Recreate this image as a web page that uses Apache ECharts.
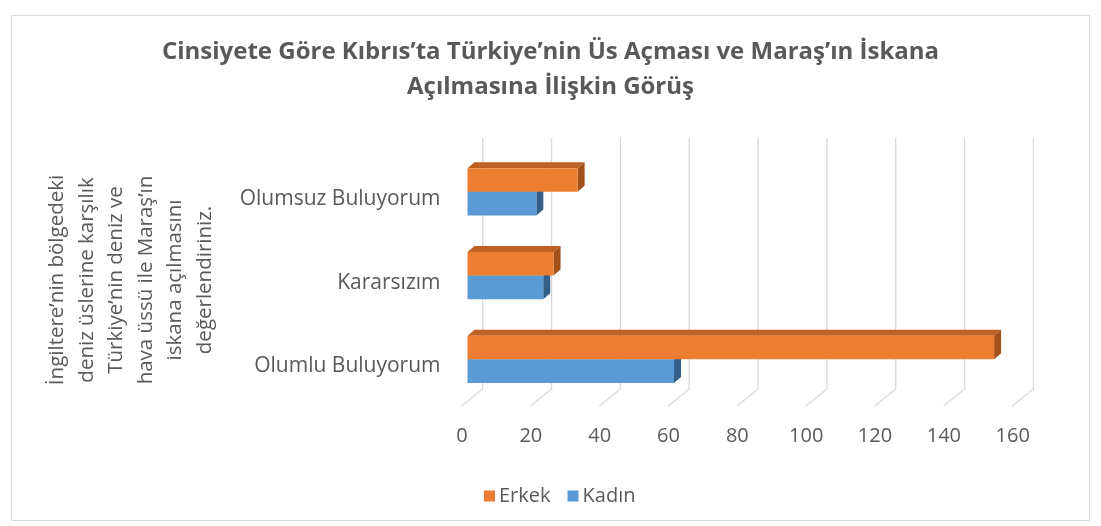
<!DOCTYPE html>
<html>
<head>
<meta charset="utf-8">
<script src="https://cdn.jsdelivr.net/npm/echarts/dist/echarts.min.js"></script>
<style>
  html, body { margin: 0; padding: 0; background: #ffffff; }
  #chart { width: 1101px; height: 526px; }
</style>
</head>
<body>
<div id="chart"></div>
<script>
// Survey answers by gender
const categories = ['Olumlu Buluyorum', 'Kararsızım', 'Olumsuz Buluyorum'];
const kadin = [60, 22, 20];
const erkek = [153, 25, 32];
const xTicks = [0, 20, 40, 60, 80, 100, 120, 140, 160];

const titleText = 'Cinsiyete Göre Kıbrıs’ta Türkiye’nin Üs Açması ve Maraş’ın İskana\nAçılmasına İlişkin Görüş';
const axisNameText = 'İngiltere’nin bölgedeki\ndeniz üslerine karşılık\nTürkiye’nin deniz ve\nhava üssü ile Maraş’ın\niskana açılmasını\ndeğerlendiriniz.';

const FONT = '"Open Sans", "Noto Sans", sans-serif';
const TEXT = '#595959';

// oblique depth used for the pseudo-3D look
const DEPTH_X = 7, DEPTH_Y = 6;        // bar thickness
const BACK_X = 15.2, BACK_Y = 12.2;    // back wall offset from bar plane
const FRONT_X = 5.8, FRONT_Y = 4.8;    // floor front edge offset

function barRenderer(upper, front, top, side) {
  return function (params, api) {
    const val = api.value(0);
    const ci = api.value(1);
    const p0 = api.coord([0, ci]);
    const p1 = api.coord([val, ci]);
    const band = api.size([0, 1])[1];
    const h = band * 0.282;
    const y0 = upper ? p0[1] - h : p0[1];
    const y1 = y0 + h;
    const x0 = p0[0], x1 = p1[0];
    return {
      type: 'group',
      children: [
        { type: 'polygon', shape: { points: [[x0, y0], [x0 + DEPTH_X, y0 - DEPTH_Y], [x1 + DEPTH_X, y0 - DEPTH_Y], [x1, y0]] }, style: { fill: top } },
        { type: 'polygon', shape: { points: [[x1, y0], [x1 + DEPTH_X, y0 - DEPTH_Y], [x1 + DEPTH_X, y1 - DEPTH_Y], [x1, y1]] }, style: { fill: side } },
        { type: 'rect', shape: { x: x0, y: y0, width: x1 - x0, height: h }, style: { fill: front } }
      ]
    };
  };
}

function frameRenderer(params, api) {
  const cs = params.coordSys;
  const x = api.coord([api.value(0), 0])[0];
  const bottom = cs.y + cs.height;
  const bx = x + BACK_X;
  const style = { stroke: '#d9d9d9', lineWidth: 1.3 };
  return {
    type: 'group',
    children: [
      { type: 'line', shape: { x1: bx, y1: cs.y - BACK_Y, x2: bx, y2: bottom - BACK_Y }, style: style },
      { type: 'line', shape: { x1: bx, y1: bottom - BACK_Y, x2: x - FRONT_X, y2: bottom + FRONT_Y }, style: style }
    ]
  };
}

const chart = echarts.init(document.getElementById('chart'), null, { renderer: 'canvas' });

chart.setOption({
  backgroundColor: '#ffffff',
  animation: false,
  title: {
    text: titleText,
    left: 'center',
    top: 30,
    textStyle: { fontFamily: FONT, fontWeight: 'bold', fontSize: 24, color: TEXT, lineHeight: 35 }
  },
  legend: {
    data: ['Erkek', 'Kadın'],
    left: 479,
    top: 481,
    icon: 'rect',
    itemWidth: 11,
    itemHeight: 11,
    itemGap: 17,
    textStyle: { fontFamily: FONT, fontSize: 20, color: TEXT, padding: [0, 0, 0, -1] }
  },
  grid: { left: 467.5, right: 82.8, top: 150, bottom: 124.8, containLabel: false },
  xAxis: {
    type: 'value',
    min: 0,
    max: 160,
    interval: 20,
    axisLine: { show: false },
    axisTick: { show: false },
    splitLine: { show: false },
    axisLabel: {
      margin: 25,
      padding: [0, 11, 0, 0],
      fontFamily: FONT,
      fontSize: 20,
      color: TEXT
    }
  },
  yAxis: {
    type: 'category',
    data: categories,
    axisLine: { show: false },
    axisTick: { show: false },
    splitLine: { show: false },
    axisLabel: {
      margin: 27,
      verticalAlign: 'top',
      lineHeight: 14,
      fontFamily: FONT,
      fontSize: 21,
      color: TEXT
    }
  },
  graphic: [
    {
      type: 'rect',
      shape: { x: 11.5, y: 15.5, width: 1078, height: 505 },
      style: { fill: 'none', stroke: '#d9d9d9', lineWidth: 1 },
      silent: true,
      z: -10
    },
    {
      type: 'text',
      x: 131,
      y: 280,
      rotation: Math.PI / 2,
      style: {
        text: axisNameText,
        fontFamily: FONT,
        fontSize: 20.5,
        lineHeight: 29.5,
        fill: TEXT,
        textAlign: 'center',
        textVerticalAlign: 'middle'
      }
    }
  ],
  series: [
    {
      name: 'frame',
      type: 'custom',
      renderItem: frameRenderer,
      data: xTicks.map(v => [v, 0]),
      encode: { x: 0, y: 1 },
      silent: true,
      z: 1
    },
    {
      name: 'Kadın',
      type: 'custom',
      renderItem: barRenderer(false, '#5b9bd5', '#4a82b6', '#335f88'),
      itemStyle: { color: '#5b9bd5' },
      data: kadin.map((v, i) => [v, i]),
      encode: { x: 0, y: 1 },
      clip: false,
      z: 2
    },
    {
      name: 'Erkek',
      type: 'custom',
      renderItem: barRenderer(true, '#ed7d31', '#bf6124', '#a3501b'),
      itemStyle: { color: '#ed7d31' },
      data: erkek.map((v, i) => [v, i]),
      encode: { x: 0, y: 1 },
      clip: false,
      z: 3
    }
  ]
});
</script>
</body>
</html>
